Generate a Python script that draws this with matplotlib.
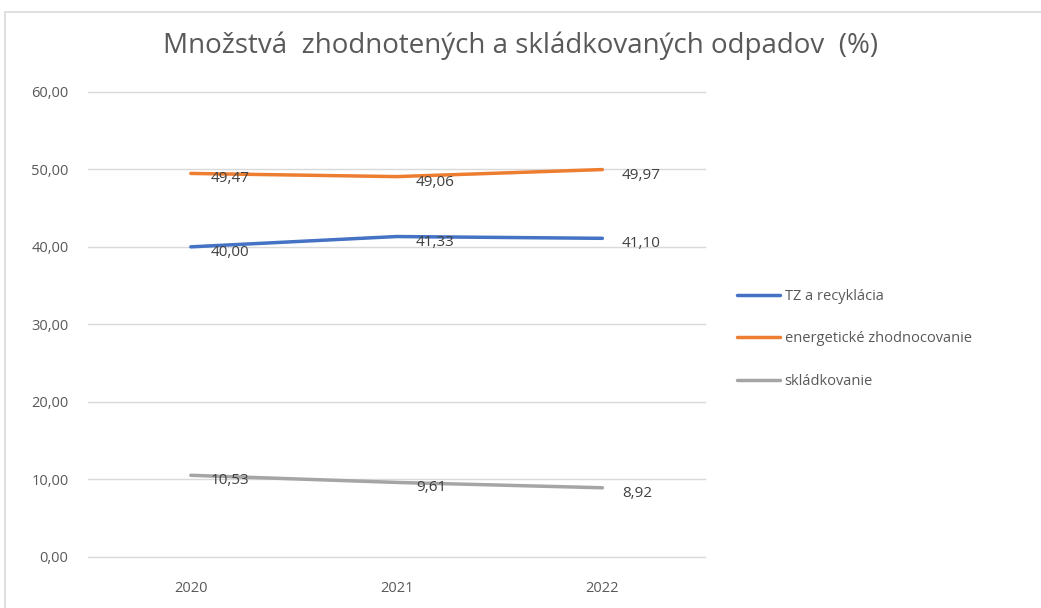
import matplotlib
matplotlib.use("Agg")
import matplotlib.pyplot as plt
from matplotlib.patches import Rectangle

years = ["2020", "2021", "2022"]
recyklacia = [40.00, 41.33, 41.10]
energeticke = [49.47, 49.06, 49.97]
skladkovanie = [10.53, 9.61, 8.92]

series = [
    ("TZ a recyklácia", recyklacia, "#4472C4"),
    ("energetické zhodnocovanie", energeticke, "#ED7D31"),
    ("skládkovanie", skladkovanie, "#A5A5A5"),
]

plt.rcParams["font.family"] = ["Open Sans", "DejaVu Sans"]
txt = "#595959"

fig = plt.figure(figsize=(10.41, 6.08), dpi=100)
ax = fig.add_axes([0.0845, 0.084, 0.593, 0.765])

x = range(len(years))
for name, vals, col in series:
    ax.plot(x, vals, color=col, lw=2.5, label=name, solid_capstyle="round")
    for xi, v in zip(x, vals):
        ax.annotate(f"{v:.2f}".replace(".", ","), (xi, v), xytext=(14, -4),
                    textcoords="offset points", ha="left", va="center",
                    fontsize=11, color="#404040")

ax.set_xlim(-0.5, 2.5)
ax.set_ylim(0, 60)
ax.set_yticks(range(0, 61, 10))
ax.set_yticklabels([f"{t:.2f}".replace(".", ",") for t in range(0, 61, 10)])
ax.set_xticks(list(x))
ax.set_xticklabels(years)
ax.tick_params(length=0, colors=txt, labelsize=10.5)
ax.tick_params(axis="y", pad=14)
ax.tick_params(axis="x", pad=17)
ax.grid(axis="y", color="#D9D9D9", lw=1, clip_on=False)
for gl in ax.get_ygridlines():
    gl.set_clip_on(False)
ax.set_axisbelow(True)
for s in ax.spines.values():
    s.set_visible(False)

fig.text(0.5, 0.925, "Množstvá  zhodnotených a skládkovaných odpadov  (%)",
         ha="center", va="center", fontsize=20, color=txt)

leg = fig.legend(loc="center left", bbox_to_anchor=(0.695, 0.4425), frameon=False,
                 fontsize=10.5, handlelength=3, handletextpad=0.3, labelspacing=1.9)
for t in leg.get_texts():
    t.set_color(txt)

# chart frame (partially cropped in the original)
fig.add_artist(Rectangle((0.005, -0.02), 1.1, 1.0, transform=fig.transFigure,
                         fill=False, edgecolor="#D9D9D9", lw=1.2))

fig.savefig("out.png", dpi=100)
